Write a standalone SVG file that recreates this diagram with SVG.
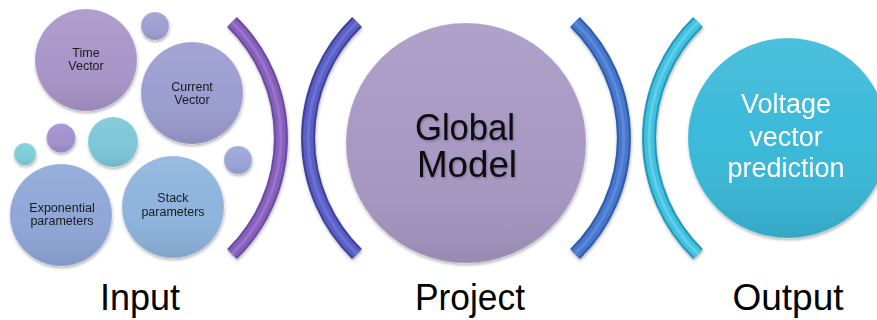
<svg xmlns="http://www.w3.org/2000/svg" width="877" height="320" viewBox="0 0 877 320">
  <defs>
    <!-- soft sheen laid over every bubble -->
    <linearGradient id="sheen" x1="0" y1="0" x2="0" y2="1">
      <stop offset="0" stop-color="#ffffff" stop-opacity="0.1"/>
      <stop offset="0.5" stop-color="#ffffff" stop-opacity="0.02"/>
      <stop offset="1" stop-color="#000000" stop-opacity="0.09"/>
    </linearGradient>
    <filter id="shadow" x="-20%" y="-20%" width="140%" height="150%">
      <feDropShadow dx="0.5" dy="2" stdDeviation="1.6" flood-color="#000" flood-opacity="0.3"/>
    </filter>
    <filter id="txtShadow" x="-10%" y="-10%" width="120%" height="130%">
      <feDropShadow dx="1" dy="1.5" stdDeviation="0.8" flood-color="#000" flood-opacity="0.25"/>
    </filter>
  </defs>
  <style>
    .bubble { filter: url(#shadow); }
    .gloss { fill: url(#sheen); stroke: #ffffff; stroke-opacity: 0.2; stroke-width: 0.8; }
    .small { font-family: "Liberation Sans", Arial, sans-serif; font-size: 12.5px; fill: #1a1a1a; text-anchor: middle; }
    .big { font-family: "Liberation Sans", Arial, sans-serif; font-size: 36px; fill: #0a0a0a; text-anchor: middle; }
    .white { font-family: "Liberation Sans", Arial, sans-serif; font-size: 27px; fill: #ffffff; text-anchor: middle; }
    .caption { font-family: "Liberation Sans", Arial, sans-serif; font-size: 36px; fill: #000000; text-anchor: middle; }
    .arc { fill: none; stroke-linecap: butt; }
  </style>

  <rect width="877" height="320" fill="#ffffff"/>

  <!-- Input bubbles -->
  <g id="time-vector" class="bubble">
    <circle cx="86" cy="60" r="51" fill="#a894c8"/>
    <circle cx="86" cy="60" r="51" class="gloss"/>
    <text class="small" x="86" y="57">Time</text>
    <text class="small" x="86" y="70">Vector</text>
  </g>
  <g id="dot-top" class="bubble">
    <circle cx="155" cy="26" r="14" fill="#9d9dd2"/>
    <circle cx="155" cy="26" r="14" class="gloss"/>
  </g>
  <g id="current-vector" class="bubble">
    <circle cx="192" cy="93" r="51" fill="#9a9bd0"/>
    <circle cx="192" cy="93" r="51" class="gloss"/>
    <text class="small" x="192" y="91">Current</text>
    <text class="small" x="192" y="104">Vector</text>
  </g>
  <g id="dot-left" class="bubble">
    <circle cx="25" cy="154" r="11" fill="#7ccdd9"/>
    <circle cx="25" cy="154" r="11" class="gloss"/>
  </g>
  <g id="dot-purple" class="bubble">
    <circle cx="61" cy="138" r="14.5" fill="#a08fcd"/>
    <circle cx="61" cy="138" r="14.5" class="gloss"/>
  </g>
  <g id="dot-teal" class="bubble">
    <circle cx="113" cy="142" r="25" fill="#7bc7d7"/>
    <circle cx="113" cy="142" r="25" class="gloss"/>
  </g>
  <g id="dot-right" class="bubble">
    <circle cx="238" cy="160" r="14" fill="#98a4d6"/>
    <circle cx="238" cy="160" r="14" class="gloss"/>
  </g>
  <g id="exponential-parameters" class="bubble">
    <circle cx="61" cy="215" r="51" fill="#8da5d7"/>
    <circle cx="61" cy="215" r="51" class="gloss"/>
    <text class="small" x="62" y="212">Exponential</text>
    <text class="small" x="62" y="225">parameters</text>
  </g>
  <g id="stack-parameters" class="bubble">
    <circle cx="173" cy="207" r="51" fill="#8cb3dd"/>
    <circle cx="173" cy="207" r="51" class="gloss"/>
    <text class="small" x="173" y="202">Stack</text>
    <text class="small" x="173" y="216">parameters</text>
  </g>

  <!-- Project -->
  <g id="global-model" class="bubble">
    <circle cx="466" cy="143" r="120" fill="#a797c3"/>
    <circle cx="466" cy="143" r="120" class="gloss"/>
    <g filter="url(#txtShadow)">
      <text class="big" x="465" y="140" textLength="100" lengthAdjust="spacingAndGlyphs">Global</text>
      <text class="big" x="467" y="177" textLength="100" lengthAdjust="spacingAndGlyphs">Model</text>
    </g>
  </g>

  <!-- Output -->
  <g id="voltage-prediction" class="bubble">
    <circle cx="788" cy="138" r="100" fill="#38b8d8"/>
    <circle cx="788" cy="138" r="100" class="gloss"/>
    <text class="white" x="786" y="113">Voltage</text>
    <text class="white" x="786" y="146">vector</text>
    <text class="white" x="786" y="177">prediction</text>
  </g>

  <!-- bracket separators between the stages -->
  <g id="connectors">
    <g filter="url(#shadow)">
      <path class="arc" d="M232,22 A162,162 0 0 1 232,254" stroke="#6a4a9f" stroke-width="14"/>
      <path class="arc" d="M232,22 A162,162 0 0 1 232,254" stroke="#8760bd" stroke-width="10"/>
      <path class="arc" d="M232,22 A162,162 0 0 1 232,254" stroke="#a484d4" stroke-width="3" stroke-opacity="0.6"/>
    </g>
    <g filter="url(#shadow)">
      <path class="arc" d="M357,22 A162,162 0 0 0 357,254" stroke="#3f4199" stroke-width="14"/>
      <path class="arc" d="M357,22 A162,162 0 0 0 357,254" stroke="#5a5ec6" stroke-width="10"/>
      <path class="arc" d="M357,22 A162,162 0 0 0 357,254" stroke="#7a7edc" stroke-width="3" stroke-opacity="0.6"/>
    </g>
    <g filter="url(#shadow)">
      <path class="arc" d="M575,22 A162,162 0 0 1 575,254" stroke="#2f5ba6" stroke-width="14"/>
      <path class="arc" d="M575,22 A162,162 0 0 1 575,254" stroke="#4677ce" stroke-width="10"/>
      <path class="arc" d="M575,22 A162,162 0 0 1 575,254" stroke="#6c97e0" stroke-width="3" stroke-opacity="0.6"/>
    </g>
    <g filter="url(#shadow)">
      <path class="arc" d="M698,22 A162,162 0 0 0 698,254" stroke="#2597b5" stroke-width="14"/>
      <path class="arc" d="M698,22 A162,162 0 0 0 698,254" stroke="#3fc1e1" stroke-width="10"/>
      <path class="arc" d="M698,22 A162,162 0 0 0 698,254" stroke="#7ad8ef" stroke-width="3" stroke-opacity="0.6"/>
    </g>
  </g>

  <!-- stage captions -->
  <g id="captions">
    <text class="caption" x="140" y="310" textLength="80" lengthAdjust="spacingAndGlyphs">Input</text>
    <text class="caption" x="470" y="310" textLength="110" lengthAdjust="spacingAndGlyphs">Project</text>
    <text class="caption" x="788" y="310" textLength="111" lengthAdjust="spacingAndGlyphs">Output</text>
  </g>
</svg>
